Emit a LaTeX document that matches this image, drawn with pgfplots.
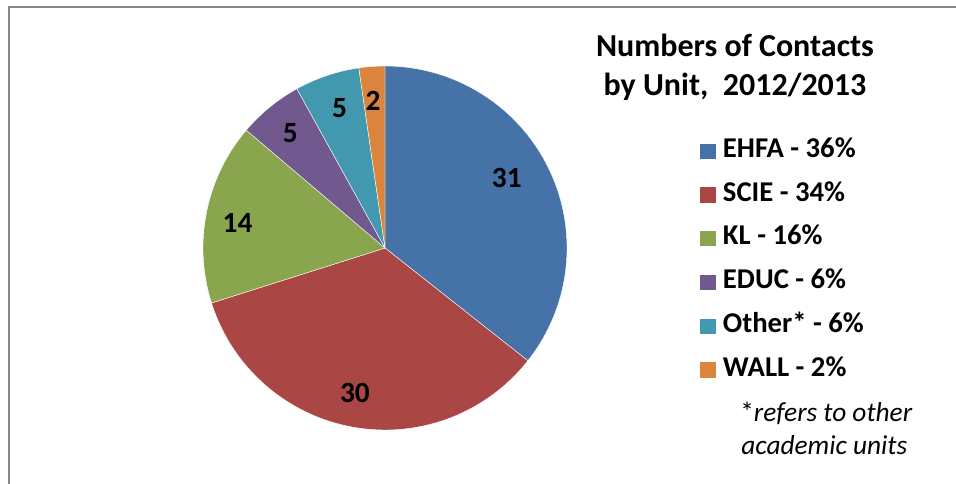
\documentclass[border=0pt]{standalone}
\usepackage{pgfplots}
\pgfplotsset{compat=1.18}
\usepackage{fontspec}
\setmainfont{Carlito}
\definecolor{cA}{HTML}{4572A7}
\definecolor{cB}{HTML}{AA4643}
\definecolor{cC}{HTML}{89A54E}
\definecolor{cD}{HTML}{71588F}
\definecolor{cE}{HTML}{4198AF}
\definecolor{cF}{HTML}{DB843D}
\definecolor{frame}{HTML}{868686}
% data: contacts per unit
\def\vA{31}\def\vB{30}\def\vC{14}\def\vD{5}\def\vE{5}\def\vF{2}
\pgfmathsetmacro\tot{\vA+\vB+\vC+\vD+\vE+\vF}
\pgfmathsetmacro\aA{90}
\pgfmathsetmacro\aB{\aA-360*\vA/\tot}
\pgfmathsetmacro\aC{\aB-360*\vB/\tot}
\pgfmathsetmacro\aD{\aC-360*\vC/\tot}
\pgfmathsetmacro\aE{\aD-360*\vD/\tot}
\pgfmathsetmacro\aF{\aE-360*\vE/\tot}
\pgfmathsetmacro\aG{\aF-360*\vF/\tot}
\begin{document}
\begin{tikzpicture}
\useasboundingbox (0,0) rectangle (717pt,362.25pt);
\draw[frame, line width=1.5pt] (6.75pt,-2pt) -- (6.75pt,357pt) -- (720pt,357pt);
\begin{axis}[
  at={(288.75pt,176.25pt)}, anchor=center,
  width=273pt, height=273pt, scale only axis,
  xmin=-1, xmax=1, ymin=-1, ymax=1,
  hide axis, clip=false,
  legend style={at={(1.3635,0.800)}, anchor=north west, draw=none, fill=none,
    inner sep=0pt, outer sep=0pt,
    font=\bfseries\fontsize{21.5}{25}\selectfont, row sep=17.35pt, column sep=5.25pt,
    nodes={inner sep=0pt, text height=13.9pt, text depth=0pt},
    legend cell align=left},
  legend image code/.code={\fill[#1] (0pt,-8.35pt) rectangle (12.2pt,3.85pt);},
]
\addplot[fill=cA, draw=white, line width=0.3pt, domain=\aB:\aA, samples=80, variable=\t] ({cos(t)},{sin(t)}) -- (0,0) -- cycle;
\addlegendentry{EHFA - 36\%}
\addplot[fill=cB, draw=white, line width=0.3pt, domain=\aC:\aB, samples=80, variable=\t] ({cos(t)},{sin(t)}) -- (0,0) -- cycle;
\addlegendentry{SCIE - 34\%}
\addplot[fill=cC, draw=white, line width=0.3pt, domain=\aD:\aC, samples=50, variable=\t] ({cos(t)},{sin(t)}) -- (0,0) -- cycle;
\addlegendentry{KL - 16\%}
\addplot[fill=cD, draw=white, line width=0.3pt, domain=\aE:\aD, samples=20, variable=\t] ({cos(t)},{sin(t)}) -- (0,0) -- cycle;
\addlegendentry{EDUC - 6\%}
\addplot[fill=cE, draw=white, line width=0.3pt, domain=\aF:\aE, samples=20, variable=\t] ({cos(t)},{sin(t)}) -- (0,0) -- cycle;
\addlegendentry{Other* - 6\%}
\addplot[fill=cF, draw=white, line width=0.3pt, domain=\aG:\aF, samples=10, variable=\t] ({cos(t)},{sin(t)}) -- (0,0) -- cycle;
\addlegendentry{WALL - 2\%}
\begin{scope}[every node/.style={font=\bfseries\fontsize{22}{26}\selectfont}]
\node at (axis cs:0.669,0.387) {\vA};
\node at (axis cs:-0.165,-0.797) {\vB};
\node at (axis cs:-0.81,0.14) {\vC};
\node at (axis cs:-0.52,0.63) {\vD};
\node at (axis cs:-0.25,0.77) {\vE};
\node at (axis cs:-0.066,0.81) {\vF};
\end{scope}
\end{axis}
\node[anchor=base, inner sep=0pt, font=\bfseries\fontsize{24}{29}\selectfont] at (551.25pt,319.5pt) {Numbers of Contacts};
\node[anchor=base, inner sep=0pt, font=\bfseries\fontsize{24}{29}\selectfont] at (551.25pt,290.75pt) {by Unit,\ \ 2012/2013};
\node[anchor=base west, inner sep=0pt, font=\fontsize{20.5}{24}\selectfont] at (555pt,46pt) {*\textit{refers to other}};
\node[anchor=base west, inner sep=0pt, font=\fontsize{20.5}{24}\selectfont] at (555.75pt,21.75pt) {\textit{academic units}};
\end{tikzpicture}
\end{document}
